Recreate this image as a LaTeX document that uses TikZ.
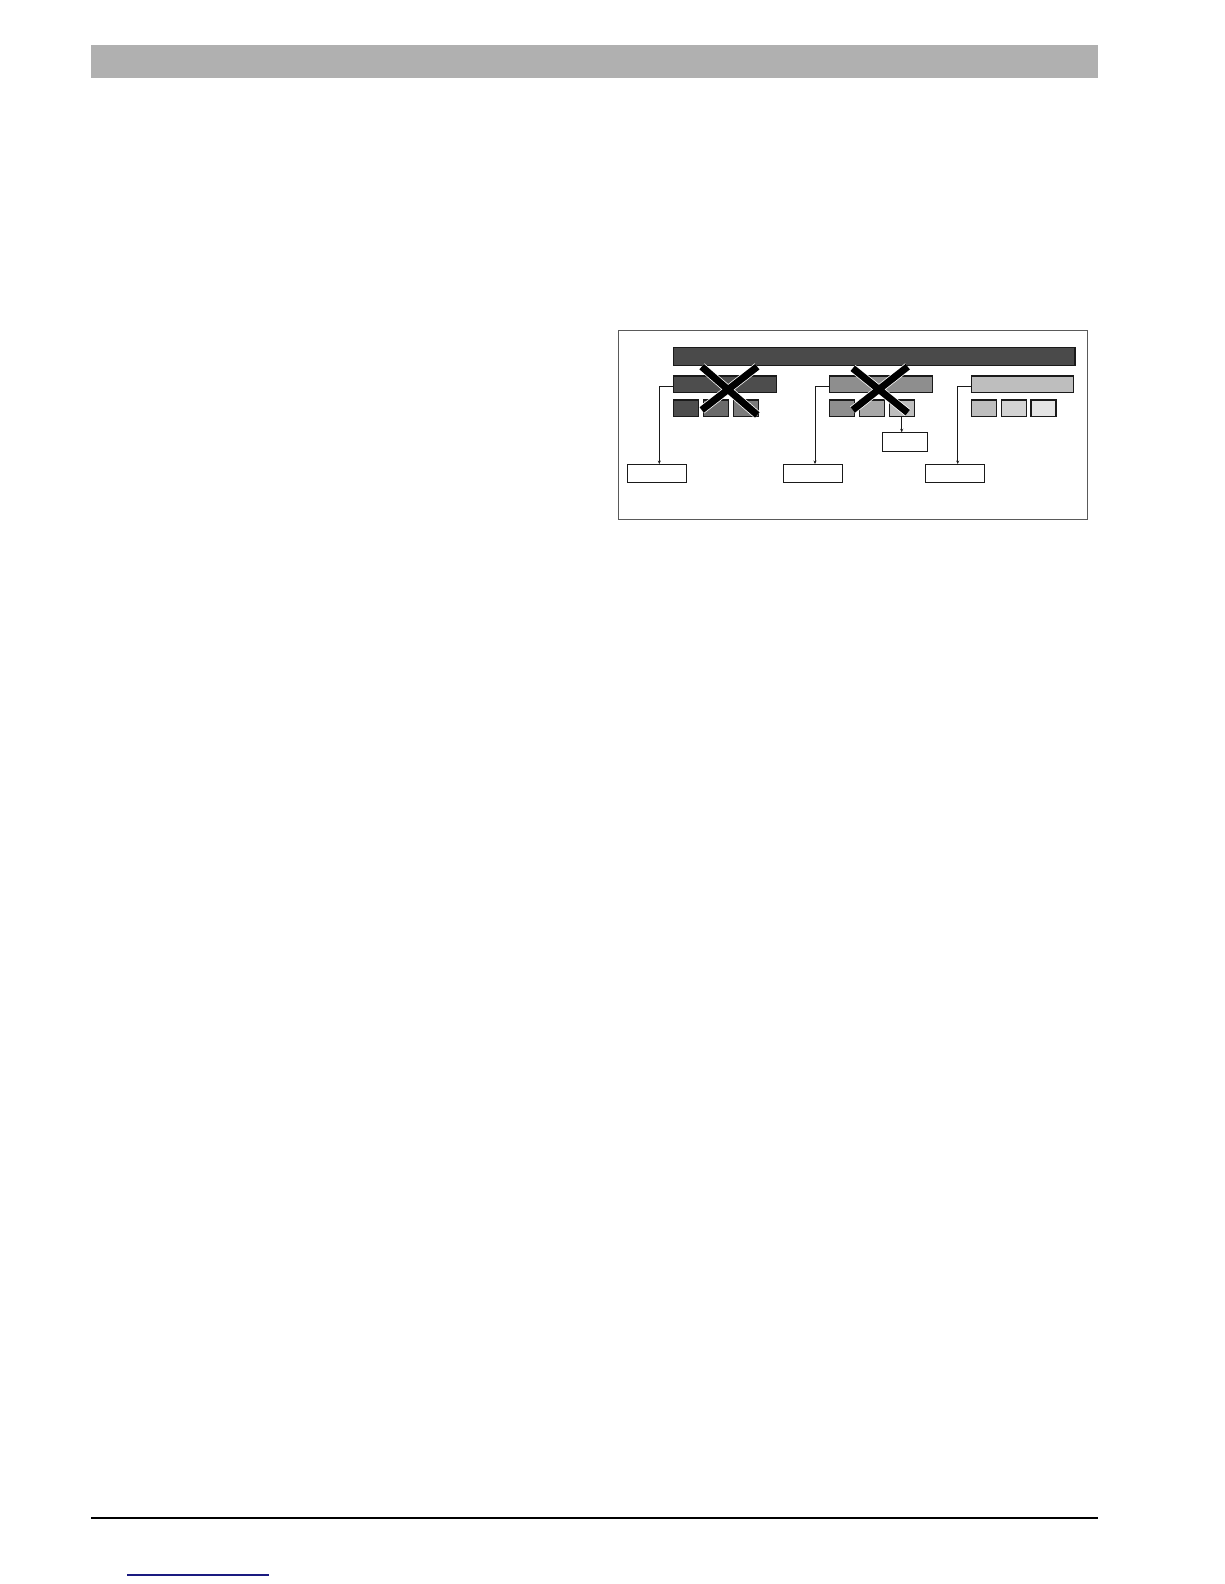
\documentclass[tikz,border=0pt]{standalone}
\usetikzlibrary{arrows.meta}
\definecolor{hdr}{HTML}{B0B0B0}
\definecolor{frm}{HTML}{5A5A5A}
\definecolor{bd}{HTML}{1A1A1A}
\definecolor{gA}{HTML}{4A4A4A}
\definecolor{gB}{HTML}{4D4D4D}
\definecolor{gC}{HTML}{6A6A6A}
\definecolor{gD}{HTML}{7A7A7A}
\definecolor{gE}{HTML}{8E8E8E}
\definecolor{gF}{HTML}{A8A8A8}
\definecolor{gG}{HTML}{BEBEBE}
\definecolor{gH}{HTML}{D3D3D3}
\definecolor{gI}{HTML}{E5E5E5}
\definecolor{lnk}{HTML}{1A1A80}
\begin{document}
\begin{tikzpicture}[x=1pt,y=-1pt,
  bx/.style={draw=bd,line width=1.3pt,inner sep=0pt,outer sep=0pt},
  sm/.style={bx,minimum width=25pt,minimum height=16.7pt},
  bar/.style={bx,minimum width=103pt,minimum height=16.7pt},
  wb/.style={bx,fill=white,line width=1.1pt,minimum width=59pt,minimum height=18.3pt},
  conn/.style={draw=bd,line width=0.9pt,-{Stealth[length=3.5pt,width=3pt]}},
  xhalo/.style={white,line width=8.5pt},
  xline/.style={black,line width=7pt}]
\useasboundingbox (0,0) rectangle (1224,1584);
% page header and footer
\fill[hdr] (91,45) rectangle (1098,78);
\draw[black,line width=1.5pt] (91,1518) -- (1098,1518);
\draw[lnk,line width=1.6pt] (127,1575) -- (269,1575);
% frame
\draw[frm,line width=1pt] (618,330) rectangle (1087,519);
% top bar
\node[bx,fill=gA,minimum width=401.7pt,minimum height=18.4pt] (top) at (874.2,356.5) {};
% mid bars
\node[bar,fill=gB] (lm) at (725,384.3) {};
\node[bar,fill=gE] (mm) at (880.8,384.3) {};
\node[bar,fill=gG,minimum width=102pt] (rm) at (1022.3,384.3) {};
% small boxes
\node[sm,fill=gB] (s1) at (686.3,408.3) {};
\node[sm,fill=gC] (s2) at (716.3,408.3) {};
\node[sm,fill=gD] (s3) at (745.8,408.3) {};
\node[sm,fill=gE] (s4) at (841.7,408.3) {};
\node[sm,fill=gF] (s5) at (871.7,408.3) {};
\node[sm,fill=gG] (s6) at (901.7,408.3) {};
\node[sm,fill=gG] (s7) at (984,408.3) {};
\node[sm,fill=gH] (s8) at (1013.8,408.3) {};
\node[sm,fill=gI] (s9) at (1043.5,408.3) {};
% white boxes
\node[wb,minimum width=45pt,minimum height=19pt] (u) at (904.8,441.8) {};
\node[wb] (b1) at (657,473.2) {};
\node[wb] (b2) at (812.8,473.2) {};
\node[wb] (b3) at (954.8,473.2) {};
% connectors
\draw[conn] ([yshift=-1.7pt]lm.west) -| ([xshift=2.3pt]b1.north);
\draw[conn] ([yshift=-1.7pt]mm.west) -| ([xshift=2.2pt]b2.north);
\draw[conn] ([yshift=-1.7pt]rm.west) -| ([xshift=2.9pt]b3.north);
\draw[conn] (s6.south) -- (s6.south |- u.north);
% crosses
\coordinate (x1a) at (701.7,366.7); \coordinate (x1b) at (757.3,415);
\coordinate (x1c) at (701.7,410);   \coordinate (x1d) at (757.3,366.7);
\coordinate (x2a) at (852.7,368.3); \coordinate (x2b) at (907.7,412.7);
\coordinate (x2c) at (852.7,410);   \coordinate (x2d) at (907.7,366.7);
\draw[xhalo] (x1a) -- (x1b) (x1c) -- (x1d) (x2a) -- (x2b) (x2c) -- (x2d);
\draw[xline] (x1a) -- (x1b) (x1c) -- (x1d) (x2a) -- (x2b) (x2c) -- (x2d);
\end{tikzpicture}
\end{document}
